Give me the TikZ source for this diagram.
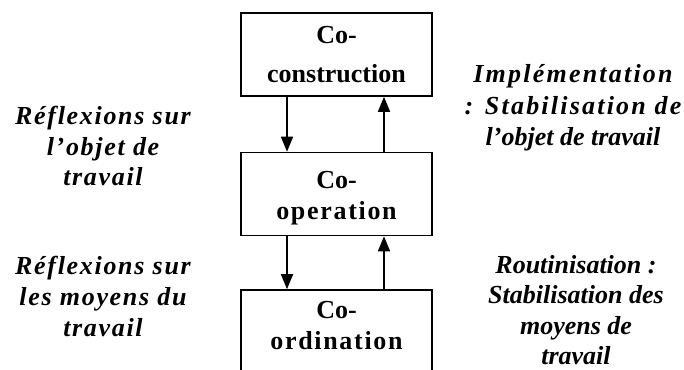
\documentclass[tikz,border=0pt]{standalone}
\usepackage{fontspec}
\setmainfont{Liberation Serif}
\newfontfamily\wideserif{Liberation Serif}[LetterSpace=8.5]
\newfontfamily\looseserif{Liberation Serif}[LetterSpace=6.5]
\usetikzlibrary{arrows.meta}

\begin{document}
\begin{tikzpicture}
[x=1pt,y=-1pt,
  boxDecorate/.style={shape=rectangle,draw,line width=1.6pt,minimum width=191pt,minimum height=83pt,inner sep=0pt,align=center},
  textDecorate/.style={inner sep=0pt,align=center},
  arrowDecorate/.style={-{Triangle[length=15pt,width=12pt]},line width=1.6pt}]
\path[use as bounding box,clip] (0,0) rectangle (684,369);
%% boxes
\foreach \nodename/\y/\lead/\txt in {
  construction/54.5/39/{Co-\\construction},
  operation/194/31/{\rule{0pt}{26pt}Co-\\{\looseserif\bfseries operation}},
  ordination/331.5/31/{Co-\\{\looseserif\bfseries ordination}\rule[-12pt]{0pt}{0pt}}}
{
  \node (\nodename) at (336.5,\y) [boxDecorate,font=\fontsize{26}{\lead}\selectfont\bfseries] {\txt};
}
%% side texts
\node (objetReflexion) at (103,146) [textDecorate,font=\fontsize{26}{30.5}\selectfont\looseserif\bfseries\itshape]
  {Réflexions sur\\l’objet de\\travail};
\node (moyensReflexion) at (103,296) [textDecorate,font=\fontsize{26}{31}\selectfont\looseserif\bfseries\itshape]
  {Réflexions sur\\les moyens du\\travail};
\node (implementation) at (573,108) [textDecorate,font=\fontsize{26}{31.5}\selectfont\bfseries\itshape]
  {{\wideserif\bfseries\itshape Implémentation}\\{\wideserif\bfseries\itshape : Stabilisation de}\\l’objet de travail};
\node (routinisation) at (576,310) [textDecorate,font=\fontsize{26}{30.5}\selectfont\bfseries\itshape]
  {Routinisation :\\Stabilisation des\\moyens de\\travail};
%% arrows
\foreach \upper/\lower in {construction/operation, operation/ordination}
{
  \draw[arrowDecorate] ([xshift=-49.5pt]\upper.south) -- ([xshift=-49.5pt]\lower.north);
  \draw[arrowDecorate] ([xshift=47.5pt]\lower.north) -- ([xshift=47.5pt]\upper.south);
}
\end{tikzpicture}
\end{document}
